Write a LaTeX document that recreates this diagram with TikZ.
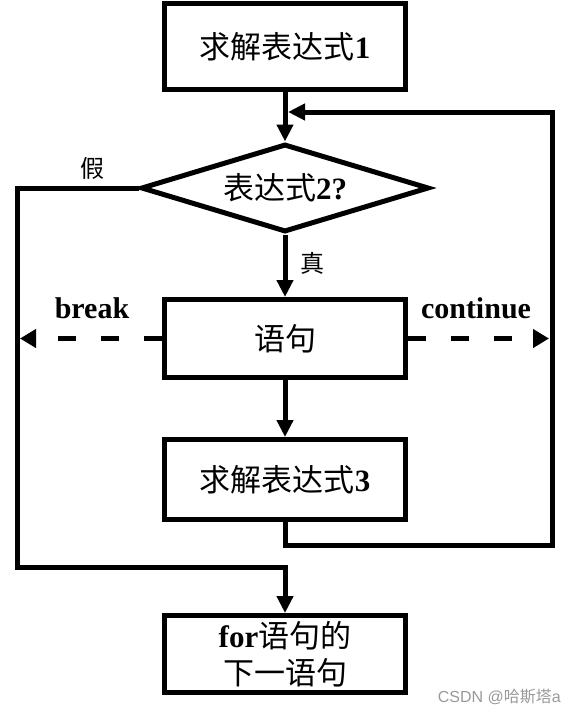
\documentclass[tikz,border=0pt]{standalone}
\usepackage{fontspec}
\setmainfont{Liberation Serif}
\setsansfont{Liberation Sans}
\newfontfamily\cjk{Noto Sans CJK SC}
\usetikzlibrary{shapes.geometric,arrows.meta}
\newcommand{\zh}[1]{{\cjk #1}}
\tikzset{
  box/.style={draw, line width=5pt, rectangle, minimum width=241pt, inner sep=0pt, align=center,
    font=\fontsize{31}{37}\selectfont},
  decision/.style={draw, line width=5pt, diamond, aspect=3.2, minimum width=288pt, minimum height=88pt,
    inner sep=0pt, font=\fontsize{31}{37}\selectfont},
  flow/.style={line width=5pt, line join=miter, -{Triangle[length=17pt,width=16pt]}},
  jump/.style={line width=5pt, dash pattern=on 18pt off 25pt, -{Triangle[length=16pt,width=18pt]}},
  lbl/.style={font=\fontsize{24}{28}\selectfont, inner sep=0pt},
  kw/.style={font=\fontsize{30}{34}\selectfont\bfseries, inner sep=0pt},
}
\begin{document}
\begin{tikzpicture}[x=1pt,y=-1pt]
\useasboundingbox (0,0) rectangle (566,712);
\node[box, minimum height=86pt] (b1) at (285,46.5) {\zh{求解表达式}\textbf{1}};
\node[decision] (dia) at (285,188) {\zh{表达式}\textbf{2?}};
\node[box, minimum height=78pt] (b2) at (285,338.5) {\zh{语句}};
\node[box, minimum height=80pt] (b3) at (285,479.5) {\zh{求解表达式}\textbf{3}};
\node[box, minimum height=77pt] (b4) at (285,654) {\textbf{for}\zh{语句的}\\[0pt]\zh{下一语句}};

\coordinate (rb) at (552,545);
\coordinate (rj) at (288,112);
\coordinate (fl) at (17,567);
\coordinate (bk) at (20,338.5);
\coordinate (ct) at (549,338.5);

\draw[flow] (b1.south) -- (dia.north);
\draw[flow] (b3.south) |- (rb) |- (rj);
\draw[flow] (dia.west) -| (fl) -| (b4.north);
\draw[flow] (dia.south) -- (b2.north);
\draw[flow] (b2.south) -- (b3.north);
\draw[jump] (b2.west) -- (bk);
\draw[jump] (b2.east) -- (ct);

\node[lbl] (jia) at (92,168) {\zh{假}};
\node[lbl] (zhen) at (312,263) {\zh{真}};
\node[kw] (brk) at (92,308) {break};
\node[kw] (cnt) at (476,308) {continue};
\node[anchor=east, inner sep=0pt, text=black!40, font=\sffamily\fontsize{16}{18}\selectfont] (wm) at (561,697) {CSDN @\zh{哈斯塔}a};
\end{tikzpicture}
\end{document}
